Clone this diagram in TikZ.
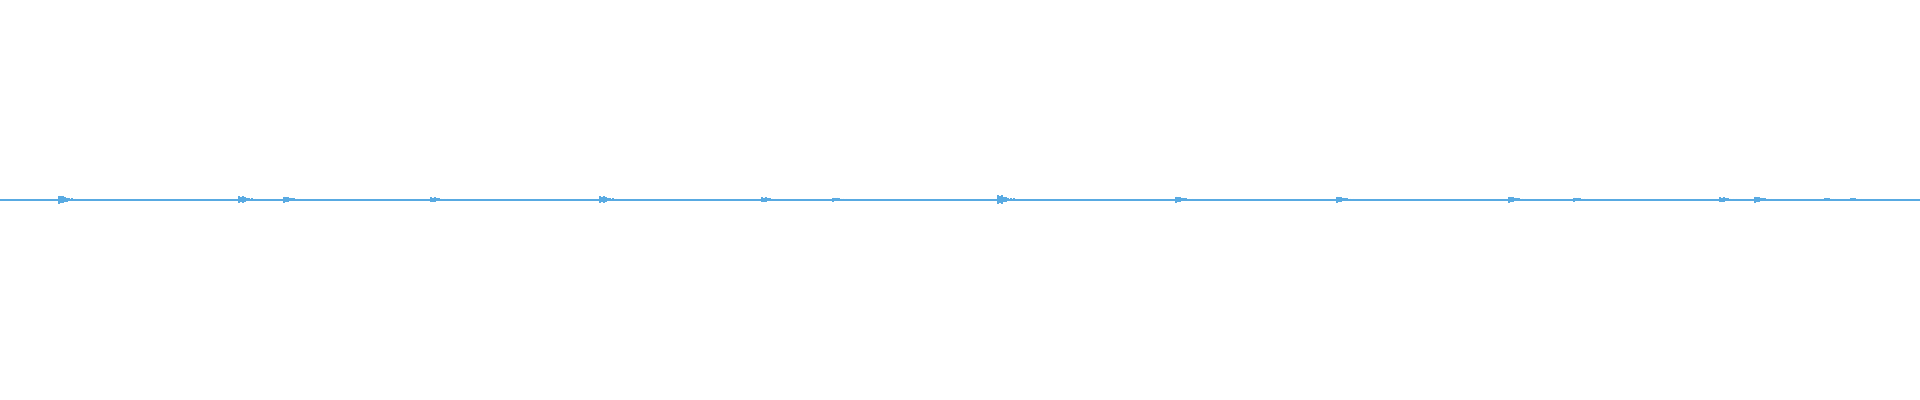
\documentclass[tikz,border=0pt]{standalone}
\definecolor{wave}{RGB}{88,170,226}
\begin{document}
\begin{tikzpicture}[x=0.01cm,y=-0.01cm,wv/.style={draw=wave,line width=0.02cm}]
\useasboundingbox (0,0) rectangle (1920,400);
\coordinate (s) at (0,199.5);
\coordinate (e) at (1920,199.5);
\draw[wv] (s) -- (e);
\foreach \x/\a in {59/4,239/3.5,284/3,431/2.5,600/3.5,762/2.5,833/2,998/4.5,1176/3,1337/3,1509/3,1574/2,1720/2.5,1755/3,1825/1.5,1851/1.5}{
  \foreach \d/\f in {0/1,2/0.8,4/0.9,6/0.6,8/0.5,10/0.4,13/0.3,16/0.25}{
    \draw[wv] (\x+\d,199.5-\a*\f) -- (\x+\d,199.5+\a*\f);
  }
}
\end{tikzpicture}
\end{document}
